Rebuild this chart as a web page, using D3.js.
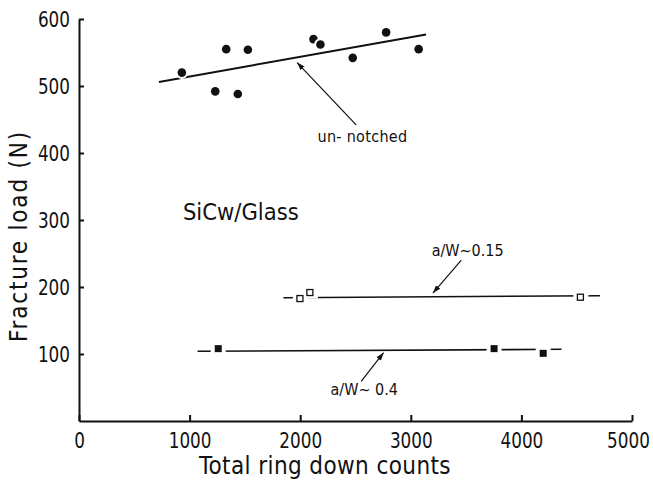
<!DOCTYPE html>
<html>
<head>
<meta charset="utf-8">
<script src="https://cdn.jsdelivr.net/npm/d3@7"></script>
<style>
  html, body { margin: 0; padding: 0; background: #fff; }
  svg { display: block; }
  text { font-family: "DejaVu Sans Condensed", "DejaVu Sans", sans-serif; fill: #111; }
  .axis path, .axis line { stroke: #111; stroke-width: 2; }
</style>
</head>
<body>
<div id="chart"></div>
<script>
// un-notched specimens (filled circles)
const unnotchedX = [930, 1232, 1331, 1436, 1527, 2120, 2183, 2475, 2777, 3071];
const unnotchedY = [520, 492, 555, 488, 554, 570, 562, 542, 580, 555];
const unnotchedFitX = [723, 3138];
const unnotchedFitY = [506, 577];

// a/W ~ 0.15 (open squares)
const aw015X = [2002, 2092, 4538];
const aw015Y = [182, 191, 184];
const aw015FitX = [1848, 4710];
const aw015FitY = [184, 187];

// a/W ~ 0.4 (filled squares)
const aw04X = [1259, 3753, 4197];
const aw04Y = [108, 108, 101];
const aw04FitX = [1072, 4363];
const aw04FitY = [104, 107];

const xTicks = [0, 1000, 2000, 3000, 4000, 5000];
const yTicks = [100, 200, 300, 400, 500, 600];

// annotations: label text, label anchor (data units), arrow tail -> head (data units)
const noteLabels = ['un- notched', 'a/W~0.15', 'a/W~ 0.4'];
const noteLabelX = [2563, 3514, 2579];
const noteLabelY = [417, 246, 39];
const arrowFromX = [2506, 3457, 2551];
const arrowFromY = [442, 240, 59];
const arrowToX = [1972, 3200, 2754];
const arrowToY = [535, 191, 102];

const title = 'SiCw/Glass';
const titleX = 1463, titleY = 300;

const width = 653, height = 483;
const squeeze = 0.85; // tick digits are narrow in the original lettering

const svg = d3.select('#chart').append('svg')
  .attr('width', width)
  .attr('height', height);

const x = d3.scaleLinear().domain([0, 5000]).range([79, 632]);
const y = d3.scaleLinear().domain([0, 600]).range([421, 19]);

svg.append('defs').append('marker')
  .attr('id', 'head')
  .attr('viewBox', '0 0 10 10')
  .attr('refX', 10).attr('refY', 5)
  .attr('markerWidth', 8).attr('markerHeight', 8)
  .attr('markerUnits', 'userSpaceOnUse')
  .attr('orient', 'auto')
  .append('path')
  .attr('d', 'M0,1.5 L10,5 L0,8.5 Z')
  .attr('fill', '#111');

// axes
const xAxisG = svg.append('g')
  .attr('class', 'axis x')
  .attr('transform', `translate(0,${y(0)})`)
  .call(d3.axisBottom(x).tickValues(xTicks).tickSizeInner(-6).tickSizeOuter(0).tickPadding(11).tickFormat(d3.format('d')));
xAxisG.selectAll('text')
  .attr('font-size', 22)
  .attr('transform', `scale(${squeeze},1)`);
// last label sits a bit inside the frame, as in the original
xAxisG.selectAll('.tick text').filter(d => d === 5000).attr('x', -4 / squeeze);

const yAxisG = svg.append('g')
  .attr('class', 'axis y')
  .attr('transform', `translate(${x(0)},0)`)
  .call(d3.axisLeft(y).tickValues(yTicks).tickSizeInner(-5).tickSizeOuter(0).tickPadding(8).tickFormat(d3.format('d')));
yAxisG.selectAll('text')
  .attr('font-size', 22)
  .attr('x', -9 / squeeze)
  .attr('transform', `scale(${squeeze},1)`);
svg.selectAll('.axis').attr('font-family', null);
svg.selectAll('.axis text').attr('fill', '#111');

svg.append('text')
  .attr('x', 325)
  .attr('y', 474)
  .attr('text-anchor', 'middle')
  .attr('font-size', 24)
  .attr('letter-spacing', 0.4)
  .text('Total ring down counts');

svg.append('text')
  .attr('transform', `translate(27,${(y(0) + y(600)) / 2 + 16}) rotate(-90)`)
  .attr('text-anchor', 'middle')
  .attr('font-size', 24)
  .attr('letter-spacing', 1.8)
  .text('Fracture load (N)');

// fitted lines
const line = d3.line().x(d => x(d[0])).y(d => y(d[1]));
const fits = [
  { xs: unnotchedFitX, ys: unnotchedFitY, w: 2 },
  { xs: aw015FitX, ys: aw015FitY, w: 1.6 },
  { xs: aw04FitX, ys: aw04FitY, w: 1.6 }
];
svg.append('g').selectAll('path')
  .data(fits)
  .join('path')
  .attr('fill', 'none')
  .attr('stroke', '#111')
  .attr('stroke-width', d => d.w)
  .attr('d', d => line(d3.zip(d.xs, d.ys)));

// markers, white halo breaks the line around each point
svg.append('g').selectAll('circle')
  .data(d3.zip(unnotchedX, unnotchedY))
  .join('circle')
  .attr('cx', d => x(d[0]))
  .attr('cy', d => y(d[1]))
  .attr('r', 4.3)
  .attr('fill', '#111')
  .attr('stroke', '#fff')
  .attr('stroke-width', 4)
  .attr('paint-order', 'stroke');

const sq = 7;
svg.append('g').selectAll('rect.halo')
  .data(d3.zip(aw015X, aw015Y).concat(d3.zip(aw04X, aw04Y)))
  .join('rect')
  .attr('class', 'halo')
  .attr('x', d => x(d[0]) - sq / 2 - 4)
  .attr('y', d => y(d[1]) - sq / 2 - 2)
  .attr('width', sq + 8)
  .attr('height', sq + 4)
  .attr('fill', '#fff');

svg.append('g').selectAll('rect')
  .data(d3.zip(aw015X, aw015Y))
  .join('rect')
  .attr('x', d => x(d[0]) - sq / 2)
  .attr('y', d => y(d[1]) - sq / 2)
  .attr('width', sq - 1)
  .attr('height', sq - 1)
  .attr('fill', '#fff')
  .attr('stroke', '#111')
  .attr('stroke-width', 1.3);

svg.append('g').selectAll('rect')
  .data(d3.zip(aw04X, aw04Y))
  .join('rect')
  .attr('x', d => x(d[0]) - sq / 2)
  .attr('y', d => y(d[1]) - sq / 2)
  .attr('width', sq)
  .attr('height', sq)
  .attr('fill', '#111');

// arrows + labels
svg.append('g').selectAll('line')
  .data(d3.range(noteLabels.length))
  .join('line')
  .attr('x1', i => x(arrowFromX[i]))
  .attr('y1', i => y(arrowFromY[i]))
  .attr('x2', i => x(arrowToX[i]))
  .attr('y2', i => y(arrowToY[i]))
  .attr('stroke', '#111')
  .attr('stroke-width', 1.2)
  .attr('marker-end', 'url(#head)');

svg.append('g').selectAll('text')
  .data(d3.range(noteLabels.length))
  .join('text')
  .attr('x', i => x(noteLabelX[i]))
  .attr('y', i => y(noteLabelY[i]))
  .attr('text-anchor', 'middle')
  .attr('font-size', 16)
  .attr('letter-spacing', i => i === 0 ? 0.3 : 0)
  .text(i => noteLabels[i]);

svg.append('text')
  .attr('x', x(titleX))
  .attr('y', y(titleY))
  .attr('text-anchor', 'middle')
  .attr('font-size', 23.5)
  .text(title);
</script>
</body>
</html>
